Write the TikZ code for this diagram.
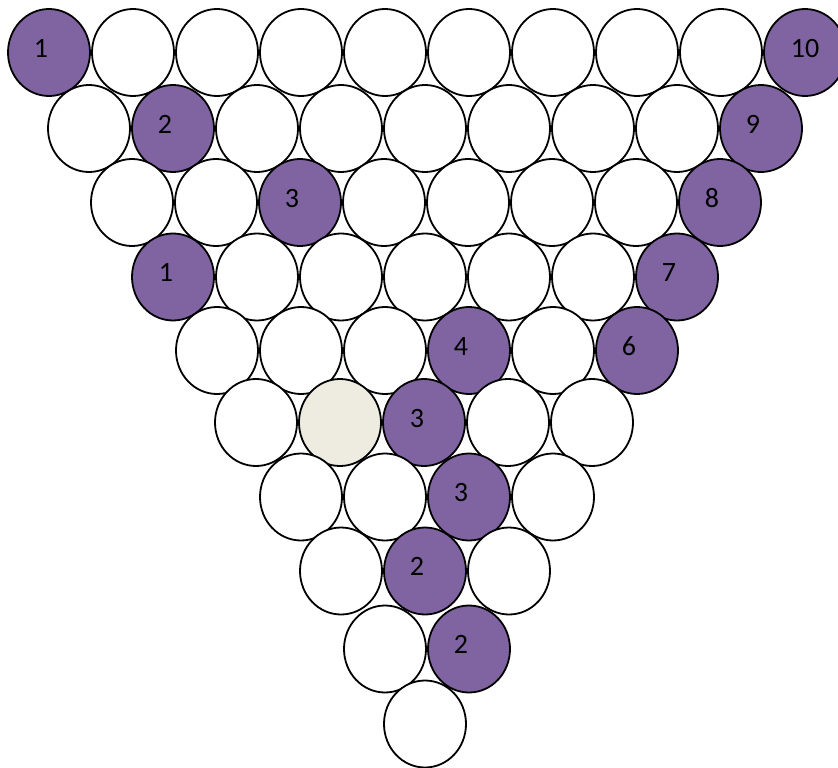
\documentclass[tikz,border=0pt]{standalone}
\usepackage{fontspec}
\setmainfont{Carlito}
\usetikzlibrary{shapes.geometric}
\definecolor{purp}{HTML}{8064A2}
\definecolor{beigeball}{HTML}{EEECE1}
\begin{document}
\begin{tikzpicture}[x=1pt,y=-1pt,
  ball/.style={ellipse, draw=black, line width=1.8pt, fill=white,
    minimum width=82pt, minimum height=87pt, inner sep=0pt, outer sep=0pt},
  hit/.style={fill=purp},
  oddball/.style={fill=beigeball},
  num/.style={font=\fontsize{28}{28}\selectfont, anchor=base, inner sep=0pt},
  st-1-1/.style=hit, st-1-10/.style=hit,
  st-2-2/.style=hit, st-2-9/.style=hit,
  st-3-3/.style=hit, st-3-8/.style=hit,
  st-4-1/.style=hit, st-4-7/.style=hit,
  st-5-4/.style=hit, st-5-6/.style=hit,
  st-6-2/.style=oddball, st-6-3/.style=hit,
  st-7-3/.style=hit,
  st-8-2/.style=hit,
  st-9-2/.style=hit]
\useasboundingbox (0,0) rectangle (838,768);
\clip (0,0) rectangle (838,768);
\foreach \r/\x/\y/\n in {1/49/52.5/10, 2/89/128.5/9, 3/132/202.5/8, 4/173/277/7,
  5/217/350.5/6, 6/256/422.5/5, 7/301/497/4, 8/341/571/3, 9/385/649/2, 10/425/724/1}{
  \foreach \k in {1,...,\n}{
    \node[ball, st-\r-\k/.try] (c\r-\k) at ({\x+84*(\k-1)},\y) {};
  }
}
\foreach \r/\k/\t/\dx in {1/1/1/-8, 1/10/10/0, 2/2/2/-8, 2/9/9/-8, 3/3/3/-8, 3/8/8/-8,
  4/1/1/-7, 4/7/7/-8, 5/4/4/-8, 5/6/6/-8, 6/3/3/-7, 7/3/3/-8, 8/2/2/-8, 9/2/2/-8}{
  \node[num] (t\r-\k) at ([xshift=\dx pt, yshift=-4.8pt]c\r-\k.center) {\t};
}
\end{tikzpicture}
\end{document}
